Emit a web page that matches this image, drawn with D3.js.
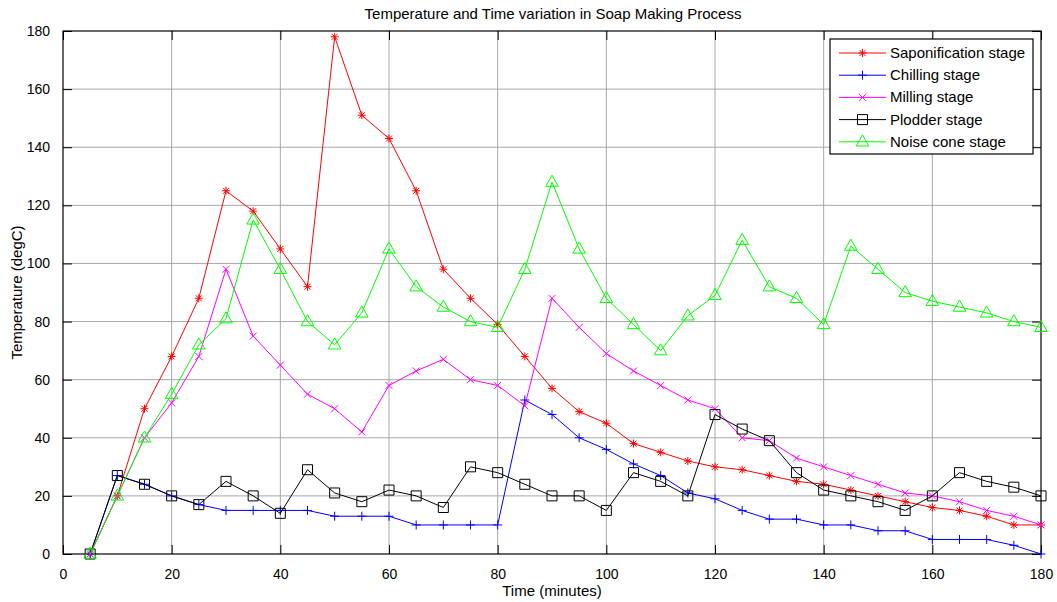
<!DOCTYPE html>
<html lang="en">
<head>
    <meta charset="UTF-8">
    <title>Soap Making Process</title>
    <script src="https://cdn.jsdelivr.net/npm/d3@7"></script>
    <style>
        body { margin: 0; background: #fff; }
        svg { display: block; font-family: "Liberation Sans", Arial, sans-serif; }
        .grid line { stroke: #a8a8a8; stroke-width: 1; }
        .tick text { font-size: 14px; fill: #000; }
    </style>
</head>
<body>
<svg id="chart" width="1057" height="602"></svg>
<script>
    // time in minutes, one reading every 5 minutes
    var times = [5, 10, 15, 20, 25, 30, 35, 40, 45, 50, 55, 60, 65, 70, 75, 80, 85, 90,
        95, 100, 105, 110, 115, 120, 125, 130, 135, 140, 145, 150, 155, 160, 165, 170, 175, 180]

    var saponification = [0, 20, 50, 68, 88, 125, 118, 105, 92, 178, 151, 143, 125, 98, 88, 79, 68, 57,
        49, 45, 38, 35, 32, 30, 29, 27, 25, 24, 22, 20, 18, 16, 15, 13, 10, 10]
    var chilling = [0, 27, 24, 20, 17, 15, 15, 15, 15, 13, 13, 13, 10, 10, 10, 10, 53, 48,
        40, 36, 31, 27, 21, 19, 15, 12, 12, 10, 10, 8, 8, 5, 5, 5, 3, 0]
    var milling = [0, 20, 40, 52, 68, 98, 75, 65, 55, 50, 42, 58, 63, 67, 60, 58, 51, 88,
        78, 69, 63, 58, 53, 50, 40, 39, 33, 30, 27, 24, 21, 20, 18, 15, 13, 10]
    var plodder = [0, 27, 24, 20, 17, 25, 20, 14, 29, 21, 18, 22, 20, 16, 30, 28, 24, 20,
        20, 15, 28, 25, 20, 48, 43, 39, 28, 22, 20, 18, 15, 20, 28, 25, 23, 20]
    var noiseCone = [0, 20, 40, 55, 72, 81, 115, 98, 80, 72, 83, 105, 92, 85, 80, 78, 98, 128,
        105, 88, 79, 70, 82, 89, 108, 92, 88, 79, 106, 98, 90, 87, 85, 83, 80, 78]

    var xTicks = [0, 20, 40, 60, 80, 100, 120, 140, 160, 180]
    var yTicks = [0, 20, 40, 60, 80, 100, 120, 140, 160, 180]

    var series = [
        {name: 'Saponification stage', values: saponification, color: '#ff0000', marker: 'star'},
        {name: 'Chilling stage', values: chilling, color: '#0000ff', marker: 'plus'},
        {name: 'Milling stage', values: milling, color: '#ff00ff', marker: 'cross'},
        {name: 'Plodder stage', values: plodder, color: '#000000', marker: 'square'},
        {name: 'Noise cone stage', values: noiseCone, color: '#00ff00', marker: 'triangle'}
    ]

    var margin = {top: 31, right: 16, bottom: 48, left: 63}
    var W = 1057, H = 602
    var w = W - margin.left - margin.right
    var h = H - margin.top - margin.bottom

    var svg = d3.select('#chart')
    var g = svg.append('g').attr('transform', 'translate(' + margin.left + ',' + margin.top + ')')

    var x = d3.scaleLinear().domain([0, 180]).range([0, w])
    var y = d3.scaleLinear().domain([0, 180]).range([h, 0])

    // grid
    g.append('g').attr('class', 'grid')
        .selectAll('line.v').data(xTicks.slice(1, -1)).enter().append('line')
        .attr('x1', d => x(d)).attr('x2', d => x(d)).attr('y1', 0).attr('y2', h)
    g.append('g').attr('class', 'grid')
        .selectAll('line.h').data(yTicks.slice(1, -1)).enter().append('line')
        .attr('x1', 0).attr('x2', w).attr('y1', d => y(d)).attr('y2', d => y(d))

    // axes, ticks pointing inward on all sides
    var tk = 9
    g.append('g').attr('transform', 'translate(0,' + h + ')')
        .call(d3.axisBottom(x).tickValues(xTicks).tickSize(-tk).tickPadding(tk + 6))
    g.append('g')
        .call(d3.axisTop(x).tickValues(xTicks).tickSize(-tk).tickFormat(''))
    g.append('g')
        .call(d3.axisLeft(y).tickValues(yTicks).tickSize(-tk).tickPadding(tk + 4))
    g.append('g').attr('transform', 'translate(' + w + ',0)')
        .call(d3.axisRight(y).tickValues(yTicks).tickSize(-tk).tickFormat(''))
    g.selectAll('.domain').remove()
    g.selectAll('.tick line').attr('stroke', '#000')

    g.append('rect').attr('width', w).attr('height', h)
        .attr('fill', 'none').attr('stroke', '#000').attr('stroke-width', 1.2)

    // marker shapes
    function markerPath (type, s) {
        switch (type) {
            case 'plus':
                return 'M' + (-s) + ',0H' + s + 'M0,' + (-s) + 'V' + s
            case 'cross':
                return 'M' + (-s) + ',' + (-s) + 'L' + s + ',' + s + 'M' + (-s) + ',' + s + 'L' + s + ',' + (-s)
            case 'star':
                var k = s * 0.75
                return 'M' + (-s) + ',0H' + s + 'M0,' + (-s) + 'V' + s +
                    'M' + (-k) + ',' + (-k) + 'L' + k + ',' + k + 'M' + (-k) + ',' + k + 'L' + k + ',' + (-k)
            case 'square':
                return 'M' + (-s) + ',' + (-s) + 'H' + s + 'V' + s + 'H' + (-s) + 'Z'
            case 'triangle':
                return 'M0,' + (-s * 1.15) + 'L' + (s * 1.05) + ',' + (s * 0.7) + 'L' + (-s * 1.05) + ',' + (s * 0.7) + 'Z'
        }
    }
    var markerSize = {star: 4, plus: 4.5, cross: 3.5, square: 5, triangle: 6}

    var line = d3.line().x((d, i) => x(times[i])).y(d => y(d))

    series.forEach(function (s) {
        var sg = g.append('g')
        sg.append('path').datum(s.values)
            .attr('d', line).attr('fill', 'none').attr('stroke', s.color).attr('stroke-width', 1)
        sg.selectAll('path.m').data(s.values).enter().append('path')
            .attr('class', 'm')
            .attr('transform', (d, i) => 'translate(' + x(times[i]) + ',' + y(d) + ')')
            .attr('d', markerPath(s.marker, markerSize[s.marker]))
            .attr('fill', 'none').attr('stroke', s.color).attr('stroke-width', 1)
    })

    // title and labels
    svg.append('text').attr('x', margin.left + w / 2 + 1).attr('y', 19)
        .attr('text-anchor', 'middle').attr('font-size', 15).text('Temperature and Time variation in Soap Making Process')
    svg.append('text').attr('x', margin.left + w / 2).attr('y', 596)
        .attr('text-anchor', 'middle').attr('font-size', 15).text('Time (minutes)')
    svg.append('text').attr('transform', 'translate(22,' + (margin.top + h / 2) + ') rotate(-90)')
        .attr('text-anchor', 'middle').attr('font-size', 15).text('Temperature (degC)')

    // legend
    var lg = svg.append('g').attr('transform', 'translate(830,39)')
    lg.append('rect').attr('width', 203).attr('height', 115)
        .attr('fill', '#fff').attr('stroke', '#000').attr('stroke-width', 1.2)
    series.forEach(function (s, i) {
        var ly = 14 + i * 22.2
        lg.append('line').attr('x1', 9).attr('x2', 56).attr('y1', ly).attr('y2', ly)
            .attr('stroke', s.color)
        lg.append('path').attr('transform', 'translate(32.5,' + ly + ')')
            .attr('d', markerPath(s.marker, markerSize[s.marker]))
            .attr('fill', 'none').attr('stroke', s.color)
        lg.append('text').attr('x', 60).attr('y', ly + 5).attr('font-size', 15).text(s.name)
    })
</script>
</body>
</html>
